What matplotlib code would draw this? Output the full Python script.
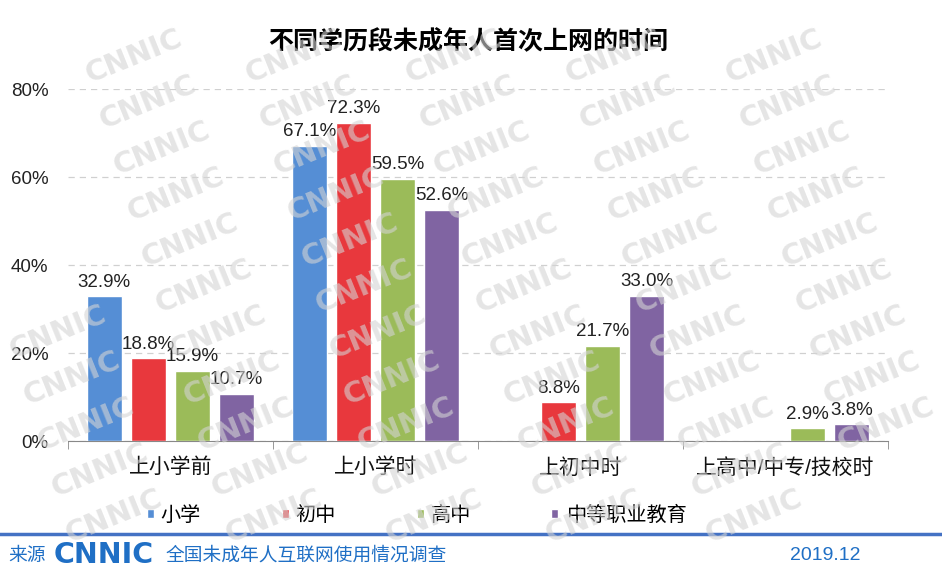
import numpy as np
import matplotlib
matplotlib.use("Agg")
import matplotlib.pyplot as plt

plt.rcParams['font.family'] = ['Liberation Sans', 'Noto Sans CJK SC', 'DejaVu Sans']

categories = ["上小学前", "上小学时", "上初中时", "上高中/中专/技校时"]
series_names = ["小学", "初中", "高中", "中等职业教育"]
xiaoxue = [32.9, 67.1, 0, 0]
chuzhong = [18.8, 72.3, 8.8, 0]
gaozhong = [15.9, 59.5, 21.7, 2.9]
zhiye = [10.7, 52.6, 33.0, 3.8]
colors = ["#558ED5", "#E8383D", "#9BBB59", "#8064A2"]
blue = "#1F6FC5"

fig = plt.figure(figsize=(9.42, 5.88), dpi=100)

# watermark
wm = fig.add_axes([0, 0, 1, 1], zorder=5)
wm.set_xlim(0, 942)
wm.set_ylim(588, 0)
wm.axis("off")
marks = []
for k in range(-2, 8):
    for j in range(14):
        x = -40 + 160 * k + 14 * j
        y = 10 + 46 * j
        t = wm.text(x, y, "CNNIC", fontsize=21, fontweight="bold", color="#d4d4d4",
                    alpha=0.6, rotation=22, ha="center", va="center",
                    family="DejaVu Sans")
        marks.append(t)

ax = fig.add_axes([68 / 942, 1 - 441 / 588, 820 / 942, 352 / 588])
x = np.arange(len(categories))
step = 0.215
width = 0.168
data = [xiaoxue, chuzhong, gaozhong, zhiye]
for i, (vals, c, name) in enumerate(zip(data, colors, series_names)):
    pos = x + (i - 1.5) * step
    bars = ax.bar(pos, vals, width, color=c, edgecolor="white", linewidth=1, label=name, zorder=3)
    for b, v in zip(bars, vals):
        if v > 0:
            ax.text(b.get_x() + b.get_width() / 2, v + 1.3, f"{v:.1f}%", ha="center",
                    va="bottom", fontsize=13.5, color="#222222", zorder=4)

ax.set_xlim(-0.5, 3.5)
ax.set_ylim(0, 80)
ax.set_yticks([0, 20, 40, 60, 80])
ax.set_yticklabels(["0%", "20%", "40%", "60%", "80%"], fontsize=13.5, color="#222222")
ax.yaxis.grid(True, linestyle=(0, (5, 4)), color="#d0d0d0", linewidth=0.9)
ax.set_axisbelow(True)
ax.tick_params(axis="y", length=0, pad=14)
ax.set_xticks(x)
ax.set_xticklabels(categories, fontsize=15, color="#111111")
ax.tick_params(axis="x", length=0, pad=12)
ax.set_xticks(np.arange(-0.5, 4.0, 1.0), minor=True)
ax.tick_params(axis="x", which="minor", length=6, color="#888888")
for s in ["left", "right", "top"]:
    ax.spines[s].set_visible(False)
ax.spines["bottom"].set_color("#888888")

leg = ax.legend(loc="center", bbox_to_anchor=(0.425, -0.21), ncol=4, frameon=False,
                fontsize=14.5, handlelength=0.35, handleheight=0.35, handletextpad=0.35,
                columnspacing=4.0)

fig.suptitle("不同学历段未成年人首次上网的时间", fontsize=18, fontweight="bold",
             x=0.497, y=0.95)

# footer
fig.add_artist(plt.Line2D([0, 1], [1 - 534 / 588] * 2, color="#4472C4", linewidth=2.5))
fig.text(8 / 942, 1 - 556 / 588, "来源", fontsize=13.5, color=blue, va="center")
fig.text(54 / 942, 1 - 555 / 588, "CNNIC", fontsize=20.5, fontweight="bold", color=blue,
         va="center", family="DejaVu Sans")
fig.text(166 / 942, 1 - 556 / 588, "全国未成年人互联网使用情况调查", fontsize=13.5,
         color=blue, va="center")
fig.text(790 / 942, 1 - 556 / 588, "2019.12", fontsize=14, color=blue, va="center")

# drop watermarks that run past the figure edge
fig.canvas.draw()
r = fig.canvas.get_renderer()
for t in marks:
    bb = t.get_window_extent(r)
    if bb.x0 < 0 or bb.y0 < 0 or bb.x1 > 942 or bb.y1 > 588:
        t.remove()

fig.savefig("out.png", dpi=100)
